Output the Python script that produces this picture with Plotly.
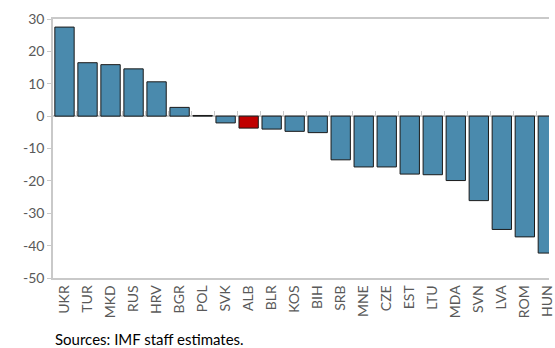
import plotly.graph_objects as go

# Country codes, ordered from largest to smallest change
countries = ["UKR", "TUR", "MKD", "RUS", "HRV", "BGR", "POL", "SVK", "ALB", "BLR", "KOS",
             "BIH", "SRB", "MNE", "CZE", "EST", "LTU", "MDA", "SVN", "LVA", "ROM", "HUN"]
values = [27.5, 16.5, 15.9, 14.6, 10.6, 2.7, 0.2, -2.1, -3.7, -4.0, -4.7,
          -5.1, -13.5, -15.7, -15.7, -17.9, -18.1, -19.9, -26.1, -35.0, -37.3, -42.3]
y_ticks = [30, 20, 10, 0, -10, -20, -30, -40, -50]
highlight = "ALB"

blue = "#4a8aad"
red = "#c00000"
colors = [red if c == highlight else blue for c in countries]
axis_gray = "#c9c9c9"
text_gray = "#595959"
font_family = "Lato, 'Open Sans', sans-serif"

x_pos = list(range(len(countries)))

fig = go.Figure()
fig.add_trace(go.Bar(
    x=x_pos, y=values,
    marker=dict(color=colors, line=dict(color="#1a1a1a", width=1)),
    width=0.84,
    showlegend=False,
    hoverinfo="skip",
))
# empty trace so the zero-line tick axis is drawn
fig.add_trace(go.Scatter(x=[], y=[], xaxis="x2", showlegend=False))

x_range = [-0.5, 21.05]

fig.update_layout(
    width=555, height=348,
    margin=dict(l=53, r=0, t=19, b=70),
    paper_bgcolor="white", plot_bgcolor="white",
    font=dict(family=font_family, color=text_gray, size=14),
    xaxis=dict(
        range=x_range,
        tickmode="array", tickvals=x_pos, ticktext=countries,
        tickangle=-90, ticks="", showgrid=False, zeroline=False,
        showline=True, linecolor=axis_gray, linewidth=1.5, mirror=True,
        tickfont=dict(size=14, color=text_gray),
        ticklabeloverflow="allow",
    ),
    xaxis2=dict(
        range=x_range, overlaying="x", anchor="free", position=50 / 80,
        tickmode="array", tickvals=[i + 0.5 for i in x_pos[:-1]],
        ticks="inside", ticklen=5, tickcolor=axis_gray, tickwidth=1,
        showticklabels=False, showgrid=False, zeroline=False, showline=False,
    ),
    yaxis=dict(
        range=[-50, 30],
        tickmode="array", tickvals=y_ticks,
        ticktext=[str(v) if v >= 0 else "-" + str(-v) for v in y_ticks],
        ticks="outside", ticklen=4, tickcolor=axis_gray,
        showgrid=False, zeroline=True, zerolinecolor=axis_gray, zerolinewidth=1.5,
        showline=True, linecolor=axis_gray, linewidth=1.5,
        tickfont=dict(size=14, color=text_gray),
    ),
    annotations=[
        dict(text="Sources: IMF staff estimates.", xref="paper", yref="paper",
             x=0.0, y=0, yshift=-72, xanchor="left", yanchor="bottom",
             showarrow=False, font=dict(size=15, color="black", family=font_family)),
    ],
)

fig.write_html("out.html")
